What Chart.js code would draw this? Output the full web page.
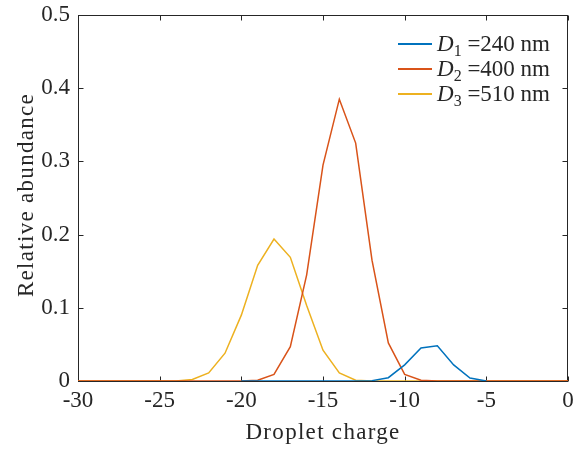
<!DOCTYPE html>
<html>
<head>
<meta charset="utf-8">
<script src="https://cdn.jsdelivr.net/npm/chart.js@4.4.1/dist/chart.umd.min.js"></script>
<style>
  html, body { margin: 0; padding: 0; background: #fff; }
  #wrap { position: relative; width: 574px; height: 451px; }
  canvas { display: block; }
  #legend { position: absolute; left: 398px; top: 31px; font-family: "Liberation Serif", serif; font-size: 23px; color: #262626; }
  .row { height: 25px; white-space: nowrap; display: flex; align-items: center; }
  .sw { display: inline-block; width: 34px; height: 2px; margin-right: 5px; }
  .row i { font-style: italic; }
  .row sub { font-size: 16px; vertical-align: -5px; line-height: 0; }
</style>
</head>
<body>
<div id="wrap">
  <canvas id="c" width="574" height="451"></canvas>
  <div id="legend"></div>
</div>
<script>
// ---- data ----
const charges = [-30,-29,-28,-27,-26,-25,-24,-23,-22,-21,-20,-19,-18,-17,-16,-15,-14,-13,-12,-11,-10,-9,-8,-7,-6,-5,-4,-3,-2,-1,0];
const d1Values = [null,null,null,null,null,null,null,null,null,null,0,0,0,0,0,0,0,0,0.0005,0.0045,0.022,0.045,0.048,0.022,0.004,0,null,null,null,null,null];
const d2Values = [0,0,0,0,0,0,0,0,0,0,0,0.001,0.009,0.047,0.145,0.295,0.385,0.325,0.165,0.052,0.009,0.001,0,0,0,0,0,0,0,0,0];
const d3Values = [0,0,0,0,0,0,0,0.002,0.011,0.038,0.090,0.158,0.194,0.169,0.103,0.042,0.011,0.001,0,0,0,0,0,0,0,0,0,0,0,0,0];
const seriesNames = ["D1", "D2", "D3"];
const seriesSubs = ["1", "2", "3"];
const seriesSizes = ["240 nm", "400 nm", "510 nm"];
const xTicks = [-30,-25,-20,-15,-10,-5,0];
const yTicks = [0,0.1,0.2,0.3,0.4,0.5];
const xTitle = "Droplet charge";
const yTitle = "Relative abundance";
const colors = ["#0072BD", "#D95319", "#EDB120"];

const allValues = [d1Values, d2Values, d3Values];
const FONT = "'Liberation Serif', serif";
const AX = "#262626";

const datasets = allValues.map((vals, i) => ({
  label: seriesNames[i] + " =" + seriesSizes[i],
  data: charges.map((c, k) => ({ x: c, y: vals[k] })),
  borderColor: colors[i],
  backgroundColor: colors[i],
  borderWidth: 1.5,
  pointRadius: 0,
  tension: 0,
  spanGaps: false
}));

// legend as HTML text
const leg = document.getElementById('legend');
seriesNames.forEach((n, i) => {
  const r = document.createElement('div');
  r.className = 'row';
  r.innerHTML = '<span class="sw" style="background:' + colors[i] + '"></span><span><i>D</i><sub>' + seriesSubs[i] + '</sub> =' + seriesSizes[i] + '</span>';
  leg.appendChild(r);
});

const boxPlugin = {
  id: 'box',
  beforeDatasetsDraw(chart) {
    const { ctx, chartArea: a, scales } = chart;
    ctx.save();
    ctx.strokeStyle = AX;
    ctx.lineWidth = 1;
    const L = Math.round(a.left) + 0.5, R = Math.round(a.right) - 0.5, T = Math.round(a.top) + 0.5, B = Math.round(a.bottom) + 0.5;
    ctx.strokeRect(L, T, R - L, B - T);
    const tl = 5;
    ctx.beginPath();
    xTicks.forEach(v => {
      const px = Math.round(scales.x.getPixelForValue(v)) + 0.5;
      ctx.moveTo(px, B); ctx.lineTo(px, B - tl);
      ctx.moveTo(px, T); ctx.lineTo(px, T + tl);
    });
    yTicks.forEach(v => {
      const py = Math.round(scales.y.getPixelForValue(v)) + 0.5;
      ctx.moveTo(L, py); ctx.lineTo(L + tl, py);
      ctx.moveTo(R, py); ctx.lineTo(R - tl, py);
    });
    ctx.stroke();
    ctx.restore();
  },
  afterDraw(chart) {
    const { ctx, chartArea: a } = chart;
    ctx.save();
    ctx.fillStyle = AX;
    ctx.font = "23px " + FONT;
    ctx.letterSpacing = "1.3px";
    ctx.textAlign = 'center';
    ctx.textBaseline = 'alphabetic';
    ctx.fillText(xTitle, (a.left + a.right) / 2, 439);
    ctx.translate(33, (a.top + a.bottom) / 2 - 3);
    ctx.rotate(-Math.PI / 2);
    ctx.fillText(yTitle, 0, 0);
    ctx.restore();
  }
};

new Chart(document.getElementById('c'), {
  type: 'line',
  data: { datasets },
  plugins: [boxPlugin],
  options: {
    responsive: false,
    animation: false,
    layout: { padding: { top: 15, right: 6, left: 0, bottom: 0 } },
    plugins: { legend: { display: false }, tooltip: { enabled: false } },
    scales: {
      x: {
        type: 'linear', min: -30, max: 0,
        afterBuildTicks(s) { s.ticks = xTicks.map(v => ({ value: v })); },
        afterFit(s) { s.height = 70; s.paddingLeft = 0; s.paddingRight = 0; },
        grid: { display: false, drawTicks: false },
        border: { display: false },
        ticks: { color: AX, font: { family: FONT, size: 23 }, padding: 6, maxRotation: 0, autoSkip: false,
          callback: v => String(v) },
        title: { display: false, text: xTitle }
      },
      y: {
        type: 'linear', min: 0, max: 0.5,
        afterBuildTicks(s) { s.ticks = yTicks.map(v => ({ value: v })); },
        afterFit(s) { s.width = 78; s.paddingTop = 0; s.paddingBottom = 0; },
        grid: { display: false, drawTicks: false },
        border: { display: false },
        ticks: { color: AX, font: { family: FONT, size: 23 }, padding: 8, autoSkip: false,
          callback: v => v === 0 ? '0' : Number(v).toFixed(1) },
        title: { display: false, text: yTitle }
      }
    }
  }
});
</script>
</body>
</html>
